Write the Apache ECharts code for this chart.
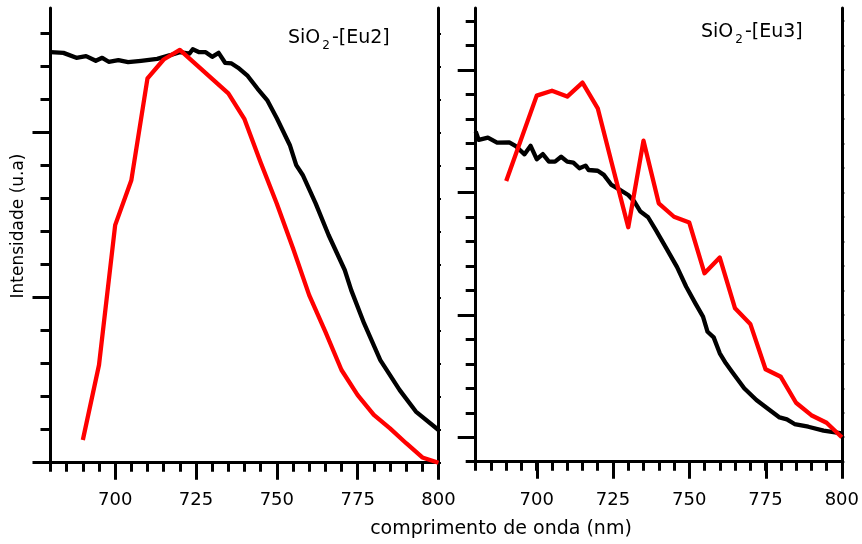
<!DOCTYPE html>
<html>
<head>
<meta charset="utf-8">
<script src="https://cdn.jsdelivr.net/npm/echarts@6/dist/echarts.min.js"></script>
<style>html,body{margin:0;padding:0;background:#fff;}#c{width:862px;height:544px;}</style>
</head>
<body>
<div id="c"></div>
<script>
// ---- data (wavelength in nm, intensity in arbitrary units) ----
const eu2BlackWl = [680,684,688,691,694,696,698,701,704,708,713,717,720,723,724,726,728,730,732,734,736,738,741,744,747,750,754,756,758,762,766,771,773,777,782,788,793,800];
const eu2BlackY  = [12.44,12.42,12.27,12.32,12.18,12.27,12.15,12.2,12.14,12.18,12.24,12.35,12.44,12.4,12.53,12.44,12.44,12.3,12.42,12.12,12.1,11.97,11.72,11.34,10.99,10.44,9.63,9.02,8.72,7.86,6.9,5.84,5.23,4.22,3.11,2.2,1.55,0.99];
const eu2RedWl = [690,695,700,705,710,715,720,725,730,735,740,745,750,755,760,765,770,775,780,785,790,795,800];
const eu2RedY  = [0.69,2.96,7.2,8.56,11.65,12.22,12.51,12.07,11.63,11.19,10.41,9.1,7.85,6.5,5.08,3.97,2.81,2.05,1.45,1.04,0.59,0.16,0];

const eu3BlackWl = [680,681,684,687,691,693,696,698,700,702,704,706,708,710,712,714,716,717,720,722,724.5,727,730,732,734,736.5,739,742.5,746,749,752,754.5,756,758,760,762,764,768,772,776,779.6,782,784.5,789,794,800];
const eu3BlackY  = [13.49,13.15,13.24,13.04,13.05,12.91,12.56,12.91,12.36,12.57,12.26,12.26,12.46,12.26,12.22,11.99,12.1,11.92,11.89,11.72,11.31,11.13,10.9,10.63,10.22,9.99,9.47,8.72,7.95,7.15,6.47,5.93,5.31,5.08,4.43,4.02,3.68,3.0,2.52,2.14,1.81,1.73,1.54,1.43,1.27,1.16];
const eu3RedWl = [690,700,705,710,715,720,725,730,735,740,745,750,755,760,765,770,775,780,785,790,795,800];
const eu3RedY  = [11.47,14.96,15.16,14.92,15.49,14.44,12.0,9.58,13.12,10.56,10.01,9.77,7.7,8.34,6.27,5.63,3.78,3.47,2.41,1.9,1.59,1.0];

const xMinorTicks = [680,685,690,695,700,705,710,715,720,725,730,735,740,745,750,755,760,765,770,775,780,785,790,795,800];
const xMajorTicks = [700,725,750,775,800];
const eu2YMinor = [0,1,2,3,4,5,6,7,8,9,10,11,12,13];
const eu2YMajor = [0,5,10];
const eu3YMinor = [0,1,2,3,4,5,6,7,8,9,10,11,12,13,14,15,16,17,18];
const eu3YMajor = [1,6,11,16];

const titles = ['Eu2','Eu3'];
const xTitle = 'comprimento de onda (nm)';
const yTitle = 'Intensidade (u.a)';

// ---- chart ----
const FONT = 'DejaVu Sans';
const zip = (a,b) => a.map((v,i)=>[v,b[i]]);
const panels = [
  {left:50.5, width:388, yMin:-0.115, yMax:13.78, yMinor:eu2YMinor, yMajor:eu2YMajor},
  {left:475.7, width:366.6, yMin:-0.196, yMax:18.54, yMinor:eu3YMinor, yMajor:eu3YMajor}
];
const grids=[], xAxes=[], yAxes=[];
const line = {show:true, lineStyle:{color:'#000', width:3}};
panels.forEach((p)=>{
  const g = grids.length;
  grids.push({left:p.left, width:p.width, top:8, height:458.5});
  grids.push({left:p.left, width:p.width, top:8, height:458.5});
  xAxes.push({gridIndex:g, type:'value', position:'bottom', min:680, max:800,
    axisLine:line, splitLine:{show:false},
    axisTick:{show:true, customValues:xMinorTicks, length:9, lineStyle:{color:'#000', width:3}},
    axisLabel:{show:true, customValues:xMajorTicks, color:'#000', fontSize:18, fontFamily:FONT, margin:25}});
  xAxes.push({gridIndex:g, type:'value', position:'top', min:680, max:800,
    axisLine:line, splitLine:{show:false},
    axisTick:{show:true, inside:true, customValues:xMinorTicks, length:3, lineStyle:{color:'#000', width:1.5}},
    axisLabel:{show:false}});
  xAxes.push({gridIndex:g+1, type:'value', position:'bottom', min:680, max:800,
    axisLine:{show:false}, splitLine:{show:false},
    axisTick:{show:true, customValues:xMajorTicks, length:17, lineStyle:{color:'#000', width:3}},
    axisLabel:{show:false}});
  yAxes.push({gridIndex:g, type:'value', position:'left', min:p.yMin, max:p.yMax,
    axisLine:line, splitLine:{show:false},
    axisTick:{show:true, customValues:p.yMinor, length:10, lineStyle:{color:'#000', width:3}},
    axisLabel:{show:false}});
  yAxes.push({gridIndex:g, type:'value', position:'right', min:p.yMin, max:p.yMax,
    axisLine:line, splitLine:{show:false},
    axisTick:{show:true, customValues:p.yMinor, length:2.5, lineStyle:{color:'#000', width:2}},
    axisLabel:{show:false}});
  yAxes.push({gridIndex:g+1, type:'value', position:'left', min:p.yMin, max:p.yMax,
    axisLine:{show:false}, splitLine:{show:false},
    axisTick:{show:true, customValues:p.yMajor, length:18, lineStyle:{color:'#000', width:3}},
    axisLabel:{show:false}});
});
const mk = (xi, yi, data, color) => ({type:'line', xAxisIndex:xi, yAxisIndex:yi, data,
  showSymbol:false, symbol:'none', lineStyle:{color, width:4.3, join:'round'}, z:3, animation:false});
const series = [
  mk(0,0,zip(eu2BlackWl,eu2BlackY),'#000'),
  mk(0,0,zip(eu2RedWl,eu2RedY),'#ff0000'),
  mk(3,3,zip(eu3BlackWl,eu3BlackY),'#000'),
  mk(3,3,zip(eu3RedWl,eu3RedY),'#ff0000'),
  {type:'line', xAxisIndex:2, yAxisIndex:2, data:[]},
  {type:'line', xAxisIndex:5, yAxisIndex:5, data:[]}
];
const rich = {a:{fontSize:19, fontFamily:FONT, color:'#000'}, b:{fontSize:12, fontFamily:FONT, color:'#000', padding:[15,2,0,2]}};
const chart = echarts.init(document.getElementById('c'), null, {renderer:'canvas'});
chart.setOption({
  animation:false,
  backgroundColor:'#fff',
  grid:grids, xAxis:xAxes, yAxis:yAxes, series,
  graphic:[
    {type:'text', x:288, y:38, z:10, style:{text:'{a|SiO}{b|2}{a|-[' + titles[0] + ']}', rich, align:'left', verticalAlign:'middle'}},
    {type:'text', x:701, y:32, z:10, style:{text:'{a|SiO}{b|2}{a|-[' + titles[1] + ']}', rich, align:'left', verticalAlign:'middle'}},
    {type:'text', x:501, y:529, z:10, style:{text:xTitle, fill:'#000', fontSize:19, fontFamily:FONT, align:'center', verticalAlign:'middle'}},
    {type:'text', x:19, y:226, rotation:Math.PI/2, z:10, style:{text:yTitle, fill:'#000', fontSize:17, fontFamily:FONT, align:'center', verticalAlign:'middle'}}
  ]
});
</script>
</body>
</html>
